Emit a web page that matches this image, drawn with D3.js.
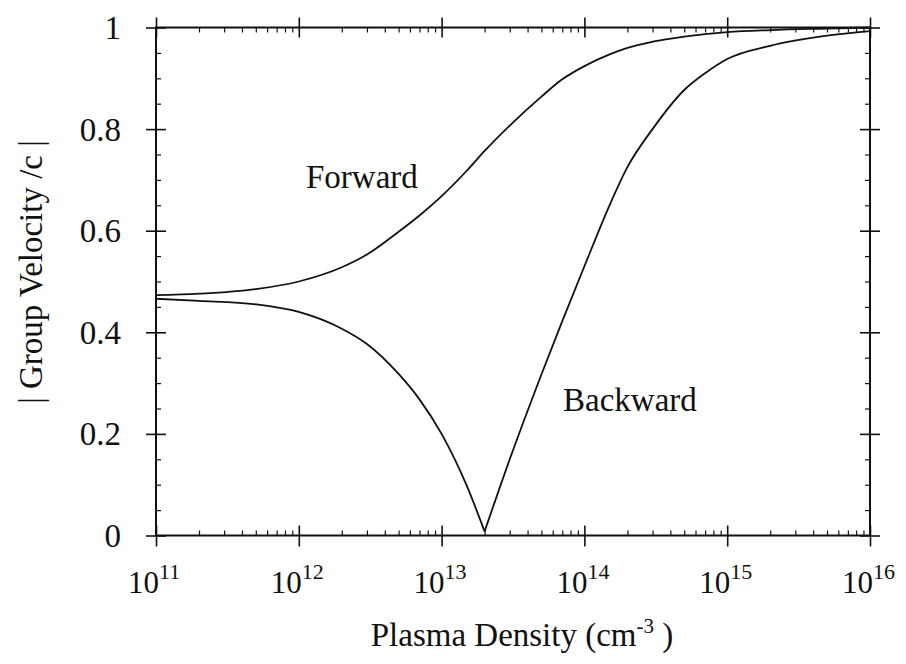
<!DOCTYPE html>
<html>
<head>
<meta charset="utf-8">
<script src="https://cdn.jsdelivr.net/npm/d3@7/dist/d3.min.js"></script>
<style>
  html, body { margin: 0; padding: 0; background: #fff; }
  svg text { font-family: "Liberation Serif", "DejaVu Serif", serif; fill: #111; }
</style>
</head>
<body>
<svg id="chart" width="906" height="664"></svg>
<script>
// ---- data ----
const densities = [1e11, 2e11, 5e11, 1e12, 2e12, 3e12, 5e12, 7e12, 1e13, 1.5e13, 2e13, 3e13, 5e13, 7e13, 1e14, 1.5e14, 2e14, 3e14, 5e14, 7e14, 1e15, 2e15, 5e15, 1e16];
const forwardVelocity = [0.473, 0.476, 0.485, 0.500, 0.528, 0.553, 0.598, 0.630, 0.668, 0.718, 0.757, 0.807, 0.864, 0.898, 0.924, 0.947, 0.960, 0.972, 0.982, 0.987, 0.991, 0.995, 0.998, 1.000];
const backwardVelocity = [0.466, 0.462, 0.455, 0.440, 0.407, 0.377, 0.318, 0.268, 0.200, 0.098, 0.008, 0.150, 0.317, 0.422, 0.530, 0.650, 0.725, 0.800, 0.877, 0.910, 0.938, 0.964, 0.984, 0.993];
const xMajorTicks = [1e11, 1e12, 1e13, 1e14, 1e15, 1e16];
const xTickExponents = ["11", "12", "13", "14", "15", "16"];
const yMajorTicks = [0, 0.2, 0.4, 0.6, 0.8, 1];
const yTickLabels = ["0", "0.2", "0.4", "0.6", "0.8", "1"];
const curveLabels = ["Forward", "Backward"];

(function () {
// ---- layout ----
const svg = d3.select("#chart");
const pl = 156, pr = 870, pt = 27.5, pb = 535.5;
const x = d3.scaleLog().domain([1e11, 1e16]).range([pl, pr]);
const y = d3.scaleLinear().domain([0, 1]).range([pb, pt]);

const xMinor = [];
for (let e = 11; e < 16; e++) for (let k = 2; k <= 9; k++) xMinor.push(k * Math.pow(10, e));
const yMinor = d3.range(0, 1.0001, 0.05).filter(v => !yMajorTicks.some(t => Math.abs(t - v) < 1e-6));

function styleAxis(g, w) {
  g.select(".domain").remove();
  g.selectAll(".tick line").attr("stroke", "#111").attr("stroke-width", w);
  g.selectAll(".tick text").remove();
}
function addAxis(gen, tx, ty, vals, size, w) {
  svg.append("g").attr("transform", `translate(${tx},${ty})`)
    .call(gen.tickValues(vals).tickSize(size).tickFormat(""))
    .call(g => styleAxis(g, w));
}

// bottom
addAxis(d3.axisBottom(x), 0, pb, xMajorTicks, 11, 1.6);
addAxis(d3.axisBottom(x), 0, pb, xMajorTicks, -10, 1.6);
addAxis(d3.axisBottom(x), 0, pb, xMinor, -5, 1.2);
// top
addAxis(d3.axisTop(x), 0, pt, xMajorTicks, 10, 1.6);
addAxis(d3.axisTop(x), 0, pt, xMajorTicks, -10, 1.6);
addAxis(d3.axisTop(x), 0, pt, xMinor, -5, 1.2);
// left
addAxis(d3.axisLeft(y), pl, 0, yMajorTicks, 10, 1.6);
addAxis(d3.axisLeft(y), pl, 0, yMajorTicks, -10, 1.6);
addAxis(d3.axisLeft(y), pl, 0, yMinor, -5, 1.2);
// right
addAxis(d3.axisRight(y), pr, 0, yMajorTicks, 10, 1.6);
addAxis(d3.axisRight(y), pr, 0, yMajorTicks, -10, 1.6);
addAxis(d3.axisRight(y), pr, 0, yMinor, -5, 1.2);

// frame
svg.append("rect").attr("x", pl).attr("y", pt).attr("width", pr - pl).attr("height", pb - pt)
  .attr("fill", "none").attr("stroke", "#111").attr("stroke-width", 2);

// y tick labels
svg.append("g").selectAll("text").data(yMajorTicks).join("text")
  .attr("x", 121).attr("y", d => y(d)).attr("dy", "0.35em")
  .attr("text-anchor", "end").attr("font-size", 33)
  .text((d, i) => yTickLabels[i]);

// x tick labels
const xl = svg.append("g").selectAll("text").data(xMajorTicks).join("text")
  .attr("x", d => x(d) - 28).attr("y", 593)
  .attr("text-anchor", "start").attr("font-size", 31);
xl.append("tspan").text("10");
xl.append("tspan").attr("dy", -14).attr("font-size", 22).text((d, i) => xTickExponents[i]);

// axis titles
const xt = svg.append("text").attr("x", 522).attr("y", 646).attr("text-anchor", "middle").attr("font-size", 33);
xt.append("tspan").text("Plasma Density (cm");
xt.append("tspan").attr("dy", -13).attr("font-size", 21).text("-3");
xt.append("tspan").attr("dy", 13).text(" )");

svg.append("text").attr("transform", "translate(42,272) rotate(-90)")
  .attr("text-anchor", "middle").attr("font-size", 33)
  .text("| Group Velocity /c |");

// curves (backward split at its minimum so the V stays sharp)
const line = d3.line().x(d => x(d[0])).y(d => y(d[1])).curve(d3.curveMonotoneX);
const fwdPts = densities.map((d, i) => [d, forwardVelocity[i]]);
const bwdPts = densities.map((d, i) => [d, backwardVelocity[i]]);
const iMin = d3.minIndex(backwardVelocity);
[fwdPts, bwdPts.slice(0, iMin + 1), bwdPts.slice(iMin)].forEach(pts => {
  svg.append("path").datum(pts).attr("d", line)
    .attr("fill", "none").attr("stroke", "#111").attr("stroke-width", 1.8)
    .attr("stroke-linejoin", "round");
});

// curve labels
svg.append("text").attr("x", 306).attr("y", 188).attr("font-size", 33).text(curveLabels[0]);
svg.append("text").attr("x", 563).attr("y", 411).attr("font-size", 33).text(curveLabels[1]);
})();
</script>
</body>
</html>
